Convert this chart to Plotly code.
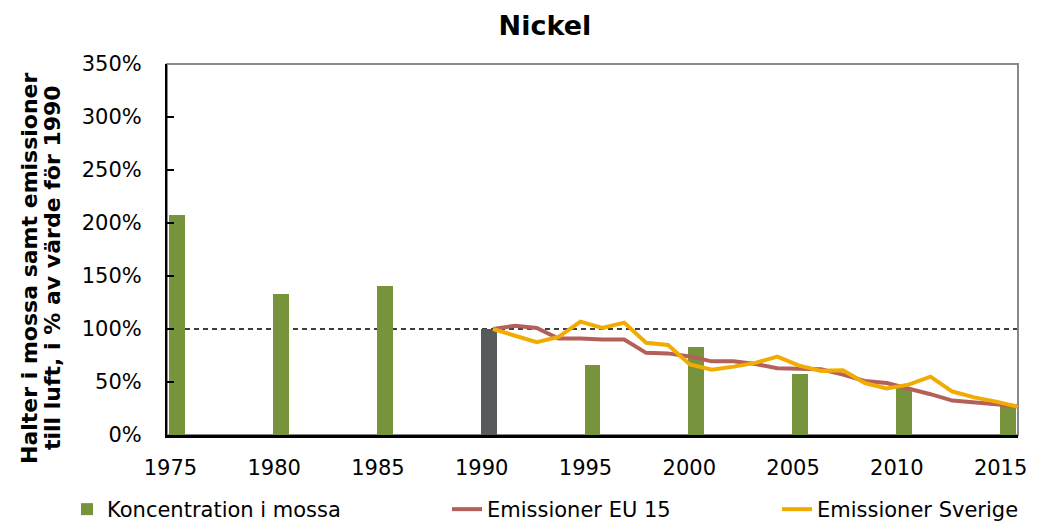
import plotly.graph_objects as go

# Moss concentration survey years and values (% of 1990)
moss_years = [1975, 1980, 1985, 1990, 1995, 2000, 2005, 2010, 2015]
moss_values = [208, 133, 141, 100, 66, 83, 58, 44, 27]
moss_colors = ["#77933C", "#77933C", "#77933C", "#58595B", "#77933C",
               "#77933C", "#77933C", "#77933C", "#77933C"]

# Emission series (% of 1990), yearly
emis_years = list(range(1990, 2015))
emis_eu15 = [100, 103, 101, 91, 91, 90, 90, 77.5, 77, 74, 69.5, 69.5, 67,
             63, 62.5, 62, 57, 51, 49, 44, 38.5, 32.5, 31, 29, 27]
emis_se = [100, 94, 87.5, 92.5, 107, 101, 106, 87, 85, 66.5, 61.5, 64.5, 68,
           74, 65.5, 60.5, 61, 49, 44, 47.5, 55, 41, 35.5, 31.5, 26.5]

x_ticks = [1975, 1980, 1985, 1990, 1995, 2000, 2005, 2010, 2015]
y_ticks = [0, 50, 100, 150, 200, 250, 300, 350]

FONT = "DejaVu Sans, sans-serif"
L, R, T, B = 167, 32, 64, 90
PW = 1050 - L - R
PH = 525 - T - B


def px_x(p):
    # pixel column -> paper x
    return (p - L) / PW


def px_y(p):
    # pixel row -> paper y
    return 1 - (p - T) / PH


fig = go.Figure()

fig.add_trace(go.Bar(
    x=moss_years, y=moss_values, name="Koncentration i mossa",
    marker=dict(color=moss_colors, line=dict(width=0)),
    width=0.77, legend="legend",
))
fig.add_trace(go.Scatter(
    x=emis_years, y=emis_eu15, name="Emissioner EU 15", mode="lines",
    line=dict(color="#B3605A", width=4), xaxis="x2", legend="legend2",
))
fig.add_trace(go.Scatter(
    x=emis_years, y=emis_se, name="Emissioner Sverige", mode="lines",
    line=dict(color="#F2AB00", width=4), xaxis="x2", legend="legend3",
))

# 100 % reference line and grey plot frame
fig.add_shape(type="line", xref="paper", yref="y", x0=0, x1=1, y0=100, y1=100,
              line=dict(color="black", width=1.3, dash="5px,4px"), layer="below")
fig.add_shape(type="rect", xref="paper", yref="paper", x0=0, x1=1, y0=0, y1=1,
              line=dict(color="#898989", width=2), layer="below")

leg = dict(orientation="h", y=px_y(489), yanchor="top", font=dict(size=21),
           bgcolor="rgba(0,0,0,0)")

fig.update_layout(
    width=1050, height=525,
    margin=dict(l=L, r=R, t=T, b=B, autoexpand=False),
    paper_bgcolor="white", plot_bgcolor="white",
    font=dict(family=FONT, size=21, color="black"),
    title=dict(text="<b>Nickel</b>", x=0.519, xanchor="center", y=0.952,
               yanchor="middle", font=dict(size=27)),
    showlegend=True,
    legend=dict(leg, x=px_x(67), xanchor="left"),
    legend2=dict(leg, x=px_x(447), xanchor="left"),
    legend3=dict(leg, x=px_x(777), xanchor="left"),
    bargap=0,
    xaxis=dict(range=[1974.5, 2015.5], tickvals=x_ticks, automargin=False,
               showgrid=False, zeroline=False, showline=True,
               linecolor="black", linewidth=2.5, ticks="",
               ticklabelstandoff=12, ticklabelshift=-7),
    xaxis2=dict(range=[1975.1, 2014], overlaying="x", visible=False),
    yaxis=dict(range=[0, 350], tickvals=y_ticks, automargin=False,
               ticktext=[f"{v}%" for v in y_ticks],
               showgrid=False, zeroline=False, showline=True,
               linecolor="black", linewidth=2, ticks="inside",
               ticklen=7, tickcolor="black", tickwidth=1.5,
               ticklabelstandoff=19),
)

# y-axis title, two rotated lines
for txt, xp in [("Halter i mossa samt emissioner", 29),
                ("till luft, i % av värde för 1990", 52)]:
    fig.add_annotation(
        text=f"<b>{txt}</b>", xref="paper", yref="paper",
        x=px_x(xp), y=px_y(268), textangle=-90,
        showarrow=False, font=dict(size=22), xanchor="center", yanchor="middle",
    )

# page body has a default margin; drop it so the figure sits at the window origin
fig.write_html("out.html", config={"displayModeBar": False},
               post_script="document.body.style.margin='0';")
